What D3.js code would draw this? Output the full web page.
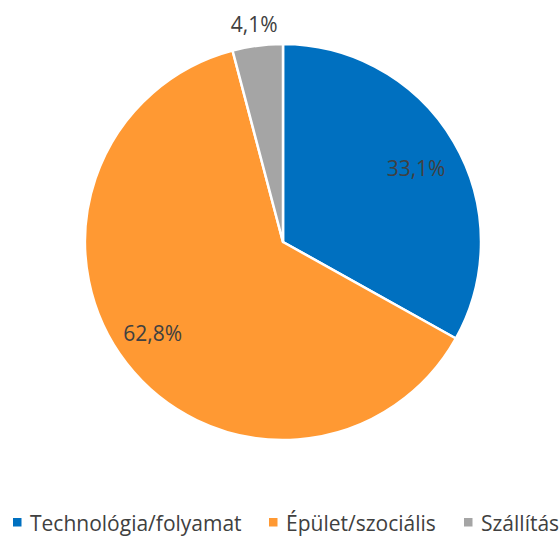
<!DOCTYPE html>
<html><head><meta charset="utf-8">
<script src="https://cdn.jsdelivr.net/npm/d3@7"></script>
<style>body{margin:0;background:#fff}svg{display:block}</style>
</head><body>
<script>
const categories = ["Technológia/folyamat", "Épület/szociális", "Szállítás"];
const values = [33.1, 62.8, 4.1];
const labels = ["33,1%", "62,8%", "4,1%"];
const colors = ["#0070C0", "#FF9933", "#A5A5A5"];

const W = 560, H = 538, cx = 283, cy = 242, R = 198;
const svg = d3.select("body").append("svg").attr("width", W).attr("height", H);
const g = svg.append("g").attr("transform", `translate(${cx},${cy})`);
const pie = d3.pie().sort(null).value(d => d)(values);
const arc = d3.arc().innerRadius(0).outerRadius(R);
g.selectAll("path").data(pie).join("path")
  .attr("d", arc).attr("fill", (d, i) => colors[i])
  .attr("stroke", "#fff").attr("stroke-width", 2.5).attr("stroke-linejoin", "round");

// label placement (radius, angular shift in degrees), mimicking "best fit"
const labelR = [152, 159, 219];
const labelShift = [1.5, 2.8, -0.2];
const ang = (d, i) => (d.startAngle + d.endAngle) / 2 + labelShift[i] * Math.PI / 180;
g.selectAll("text").data(pie).join("text")
  .attr("x", (d, i) => Math.sin(ang(d, i)) * labelR[i])
  .attr("y", (d, i) => -Math.cos(ang(d, i)) * labelR[i] + 7.5)
  .attr("text-anchor", "middle")
  .attr("font-family", "'Open Sans', sans-serif").attr("font-size", 21)
  .attr("fill", "#404040").text((d, i) => labels[i]);

const legX = [13, 269, 464];
const leg = svg.append("g");
categories.forEach((c, i) => {
  leg.append("rect").attr("x", legX[i]).attr("y", 518).attr("width", 8.5).attr("height", 8.5).attr("fill", colors[i]);
  leg.append("text").attr("x", legX[i] + 17).attr("y", 531)
    .attr("font-family", "'Open Sans', sans-serif").attr("font-size", 21).attr("fill", "#404040").text(c);
});
</script>
</body></html>
